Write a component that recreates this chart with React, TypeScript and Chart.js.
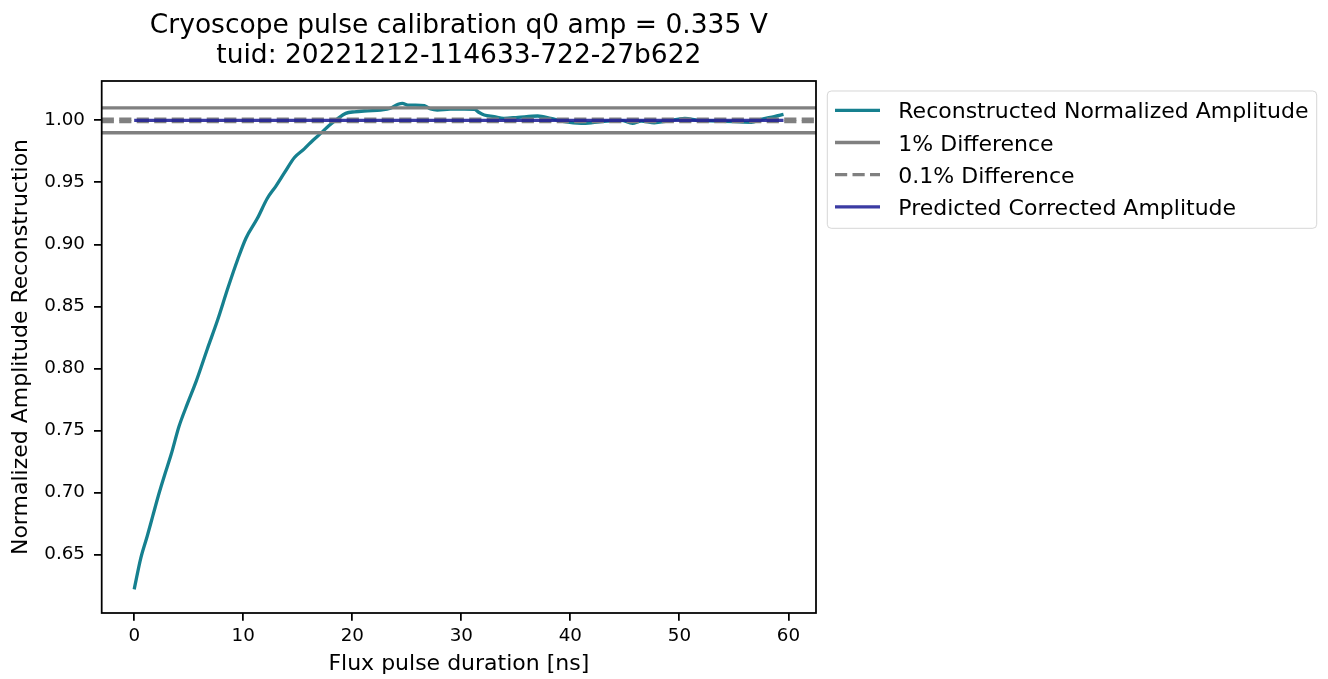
import React, { useEffect, useRef } from "react";
import { Chart, registerables } from "chart.js";

Chart.register(...registerables);

const FONT = "'DejaVu Sans', sans-serif";

const titleLines = [
  "Cryoscope pulse calibration q0 amp = 0.335 V",
  "tuid: 20221212-114633-722-27b622",
];
const xAxisLabel = "Flux pulse duration [ns]";
const yAxisLabel = "Normalized Amplitude Reconstruction";

// Flux pulse duration [ns]
const durations = [
  0, 0.6, 1.2, 1.7, 2.3, 2.75, 3.4, 4.1, 4.9, 5.7, 6.7, 7.65, 8.6, 9.5, 10.25,
  11.3, 12.2, 13.0, 13.8, 14.7, 15.6, 16.4, 17.1, 17.9, 18.7, 19.4, 20.2, 21.4,
  22.6, 23.5, 24.2, 24.6, 25.1, 25.8, 26.6, 27.2, 27.8, 29.0, 30.3, 31.2, 31.6,
  32.1, 33.0, 33.9, 35.2, 37.0, 38.2, 39.45, 41.0, 41.9, 43.4, 44.65, 45.7, 46.5,
  47.7, 48.9, 50.5, 51.7, 53.5, 55.0, 56.6, 57.5, 58.7, 59.55,
];
// Reconstructed normalized amplitude
const amplitudes = [
  0.622, 0.647, 0.665, 0.681, 0.7, 0.713, 0.731, 0.753, 0.772, 0.79, 0.8155,
  0.839, 0.865, 0.888, 0.905, 0.921, 0.937, 0.947, 0.958, 0.97, 0.977, 0.984,
  0.9895, 0.996, 1.0016, 1.0056, 1.0069, 1.0077, 1.0083, 1.0097, 1.0129, 1.0137,
  1.0123, 1.0123, 1.0118, 1.0091, 1.0083, 1.009, 1.009, 1.0089, 1.0065, 1.0043,
  1.003, 1.0016, 1.0024, 1.0035, 1.0016, 0.9989, 0.9976, 0.998, 0.9994, 1.0,
  0.9976, 0.9994, 0.998, 0.9994, 1.0016, 1.0, 0.9994, 0.9989, 0.9984, 1.0008,
  1.003, 1.0048,
];

const onePercentLevels = [1.01, 0.99];
const tenthPercentLevels = [1.001, 0.999];
const predictedLevel = 1.0;

const xTicks = [0, 10, 20, 30, 40, 50, 60];
const yTicks = [0.65, 0.7, 0.75, 0.8, 0.85, 0.9, 0.95, 1.0];

const legendLabels = [
  "Reconstructed Normalized Amplitude",
  "1% Difference",
  "0.1% Difference",
  "Predicted Corrected Amplitude",
];

const X_MIN = -2.98;
const X_MAX = 62.53;
const Y_MIN = 0.6029;
const Y_MAX = 1.0317;

const TEAL = "#16808f";
const GREY = "#808080";
const BLUE = "rgba(32, 32, 150, 0.88)";
const DASH = [12.2, 5.3];
const LW = 3.3;

const decorPlugin = {
  id: "decor",
  afterDatasetsDraw(chart: any) {
    const { ctx, chartArea } = chart;
    const { left, right, top, bottom } = chartArea;
    ctx.save();
    // frame (spines)
    ctx.strokeStyle = "#000";
    ctx.lineWidth = 1.76;
    ctx.setLineDash([]);
    ctx.strokeRect(left, top, right - left, bottom - top);

    // title
    ctx.fillStyle = "#000";
    ctx.font = `26.5px ${FONT}`;
    ctx.textAlign = "center";
    ctx.textBaseline = "alphabetic";
    const cx = (left + right) / 2;
    ctx.fillText(titleLines[0], cx, 33.3);
    ctx.fillText(titleLines[1], cx, 63.3);

    // legend
    const bx = 827.3, by = 91, bw = 489.4, bh = 137.3, r = 4;
    ctx.beginPath();
    ctx.moveTo(bx + r, by);
    ctx.lineTo(bx + bw - r, by);
    ctx.arcTo(bx + bw, by, bx + bw, by + r, r);
    ctx.lineTo(bx + bw, by + bh - r);
    ctx.arcTo(bx + bw, by + bh, bx + bw - r, by + bh, r);
    ctx.lineTo(bx + r, by + bh);
    ctx.arcTo(bx, by + bh, bx, by + bh - r, r);
    ctx.lineTo(bx, by + r);
    ctx.arcTo(bx, by, bx + r, by, r);
    ctx.closePath();
    ctx.fillStyle = "rgba(255,255,255,0.8)";
    ctx.fill();
    ctx.strokeStyle = "rgba(204,204,204,0.8)";
    ctx.lineWidth = 1;
    ctx.stroke();

    const styles = [
      { color: TEAL, dash: [] as number[] },
      { color: GREY, dash: [] as number[] },
      { color: GREY, dash: DASH },
      { color: BLUE, dash: [] as number[] },
    ];
    ctx.font = `22px ${FONT}`;
    ctx.textAlign = "left";
    legendLabels.forEach((label, i) => {
      const base = 118.3 + i * 32.2;
      const ly = base - 8;
      ctx.beginPath();
      ctx.strokeStyle = styles[i].color;
      ctx.lineWidth = LW;
      ctx.setLineDash(styles[i].dash);
      ctx.moveTo(835, ly);
      ctx.lineTo(880, ly);
      ctx.stroke();
      ctx.setLineDash([]);
      ctx.fillStyle = "#000";
      ctx.fillText(label, 898.3, base);
    });
    ctx.restore();
  },
};

export default function App() {
  const canvasRef = useRef<HTMLCanvasElement | null>(null);

  useEffect(() => {
    if (!canvasRef.current) return;
    Chart.defaults.font.family = FONT;
    const hline = (y: number, color: string, dash: number[], order: number) => ({
      data: [
        { x: X_MIN, y },
        { x: X_MAX, y },
      ],
      borderColor: color,
      borderWidth: LW,
      borderDash: dash,
      pointRadius: 0,
      order,
    });
    const chart = new Chart(canvasRef.current, {
      type: "line",
      data: {
        datasets: [
          {
            data: durations.map((x, i) => ({ x, y: amplitudes[i] })),
            borderColor: TEAL,
            borderWidth: LW,
            pointRadius: 0,
            tension: 0,
            cubicInterpolationMode: "monotone",
            borderJoinStyle: "round",
            order: 10,
          },
          hline(onePercentLevels[0], GREY, [], 9),
          hline(onePercentLevels[1], GREY, [], 8),
          hline(tenthPercentLevels[0], GREY, DASH, 7),
          hline(tenthPercentLevels[1], GREY, DASH, 6),
          {
            data: [
              { x: durations[0], y: predictedLevel },
              { x: durations[durations.length - 1], y: predictedLevel },
            ],
            borderColor: BLUE,
            borderWidth: LW,
            pointRadius: 0,
            order: 1,
          },
        ] as any,
      },
      options: {
        animation: false,
        responsive: false,
        devicePixelRatio: 1,
        layout: { padding: { top: 81, right: 512, bottom: 0, left: 0 } },
        plugins: {
          legend: { display: false },
          tooltip: { enabled: false },
          title: { display: false },
        },
        events: [],
        scales: {
          x: {
            type: "linear",
            min: X_MIN,
            max: X_MAX,
            afterBuildTicks: (s: any) => {
              s.ticks = xTicks.map((v) => ({ value: v }));
            },
            afterFit: (s: any) => {
              s.height = 66;
            },
            border: { display: false },
            grid: {
              drawOnChartArea: false,
              drawTicks: true,
              tickLength: 7.7,
              color: "#000",
              lineWidth: 1.76,
            },
            ticks: {
              font: { size: 18.3, family: FONT },
              color: "#000",
              padding: 4.5,
              maxRotation: 0,
              autoSkip: false,
              callback: (v: any) => String(v),
            },
            title: {
              display: true,
              text: xAxisLabel,
              color: "#000",
              font: { size: 22, family: FONT, lineHeight: 1.2 },
              padding: { top: 0, bottom: 1.8 },
            },
          },
          y: {
            type: "linear",
            min: Y_MIN,
            max: Y_MAX,
            afterBuildTicks: (s: any) => {
              s.ticks = yTicks.map((v) => ({ value: v }));
            },
            afterFit: (s: any) => {
              s.width = 101.7;
            },
            border: { display: false },
            grid: {
              drawOnChartArea: false,
              drawTicks: true,
              tickLength: 7.7,
              color: "#000",
              lineWidth: 1.76,
            },
            ticks: {
              font: { size: 18.3, family: FONT },
              color: "#000",
              padding: 9,
              autoSkip: false,
              callback: (v: any) => Number(v).toFixed(2),
            },
            title: {
              display: true,
              text: yAxisLabel,
              color: "#000",
              font: { size: 22, family: FONT, lineHeight: 1.2 },
              padding: { top: 7.8, bottom: 0 },
            },
          },
        },
      } as any,
      plugins: [decorPlugin],
    });
    return () => chart.destroy();
  }, []);

  return (
    <div style={{ position: "absolute", left: 0, top: 0, width: 1328, height: 679, background: "#fff" }}>
      <canvas ref={canvasRef} width={1328} height={679} style={{ width: 1328, height: 679, display: "block" }} />
    </div>
  );
}
